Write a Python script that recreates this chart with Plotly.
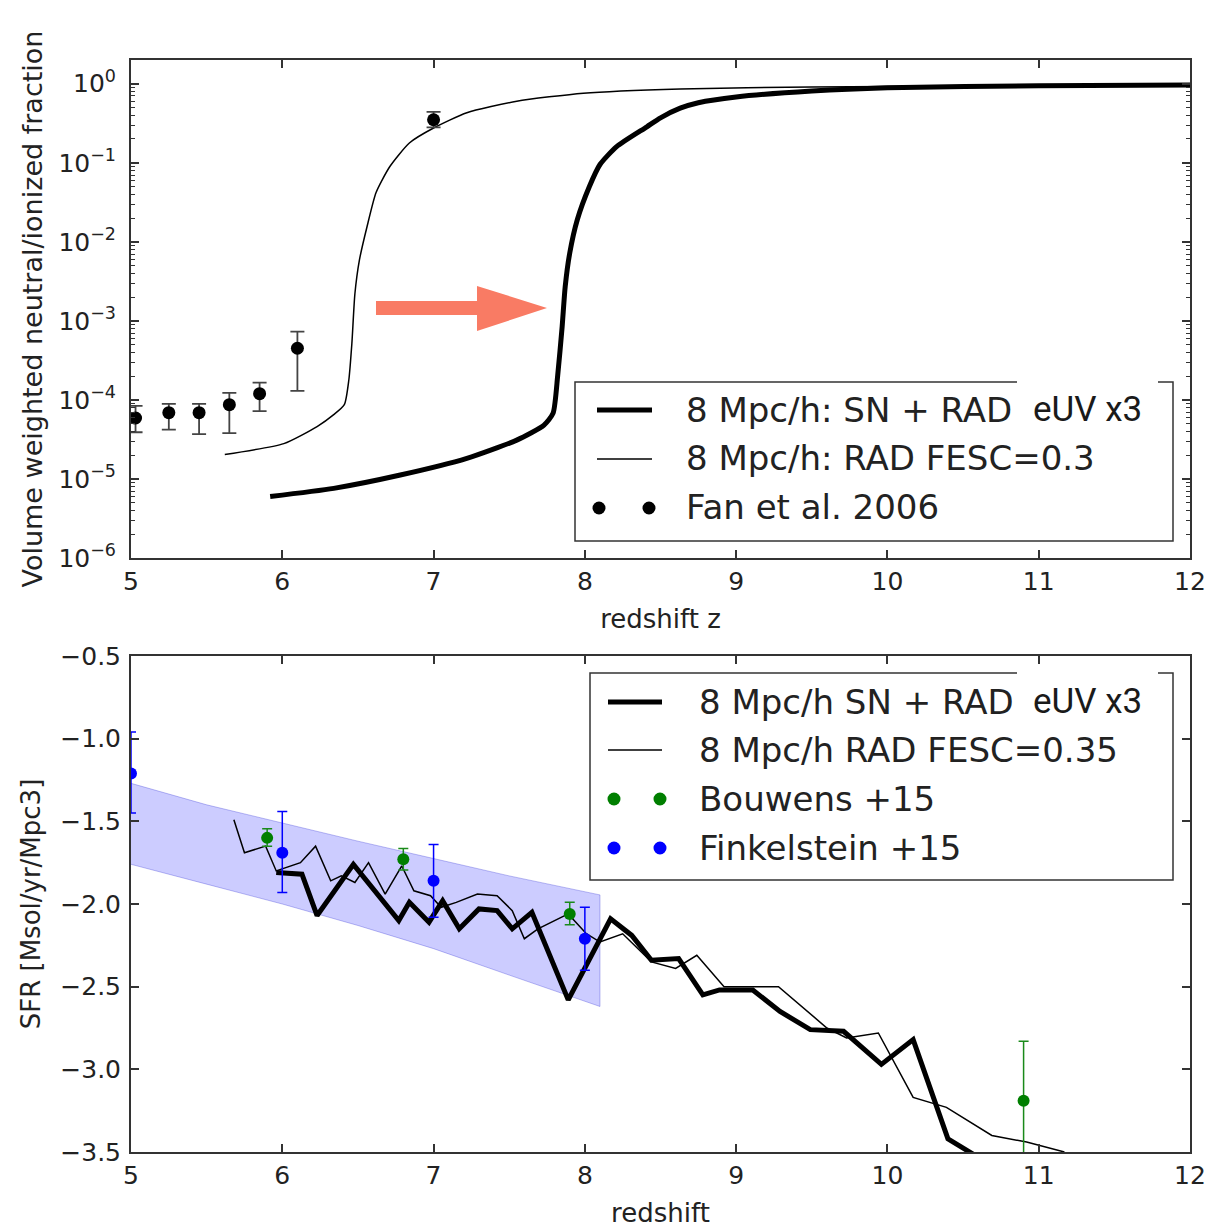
import plotly.graph_objects as go

# ---------------- top panel data (volume weighted neutral/ionized fraction) -------------
z_sn_top = [5.92, 6.34, 6.78, 7.22, 7.55, 7.73, 7.79, 7.82, 7.85, 7.87, 7.90, 7.95,
            8.03, 8.10, 8.21, 8.41, 8.50, 8.63, 8.75, 9.0, 9.5, 10.0, 11.0, 12.0]
frac_sn_top = [6.0e-6, 7.6e-6, 1.12e-5, 1.82e-5, 3.1e-5, 4.8e-5, 6.8e-5, 2.0e-4, 8.5e-4,
               2.7e-3, 7.2e-3, 1.9e-2, 5.0e-2, 9.5e-2, 0.16, 0.285, 0.37, 0.49, 0.575,
               0.68, 0.81, 0.89, 0.94, 0.965]

z_rad_top = [5.62, 6.01, 6.23, 6.34, 6.41, 6.44, 6.46, 6.48, 6.51, 6.56, 6.62, 6.71,
             6.84, 7.00, 7.22, 7.55, 7.99, 8.63, 9.5, 10.5, 12.0]
frac_rad_top = [2.04e-5, 2.8e-5, 4.6e-5, 6.5e-5, 8.7e-5, 1.8e-4, 5.2e-4, 2.2e-3, 5.9e-3,
                1.55e-2, 4.2e-2, 8.9e-2, 0.178, 0.275, 0.43, 0.60, 0.76, 0.86, 0.91,
                0.93, 0.955]

fan_z = [5.03, 5.25, 5.45, 5.65, 5.85, 6.10, 7.00]
fan_val = [5.9e-5, 6.9e-5, 6.9e-5, 8.7e-5, 1.2e-4, 4.5e-4, 0.35]
fan_hi = [8.4e-5, 8.9e-5, 8.9e-5, 1.23e-4, 1.65e-4, 7.3e-4, 0.44]
fan_lo = [3.9e-5, 4.2e-5, 3.7e-5, 3.8e-5, 7.2e-5, 1.3e-4, 0.28]

# ---------------- bottom panel data (SFR) -------------
z_sn_sfr = [5.96, 6.13, 6.23, 6.47, 6.77, 6.84, 6.97, 7.06, 7.17, 7.30, 7.42, 7.52, 7.65,
            7.89, 8.17, 8.31, 8.44, 8.62, 8.78, 8.89, 9.11, 9.29, 9.49, 9.71, 9.96,
            10.17, 10.40, 10.55, 10.65]
sfr_sn = [-1.81, -1.82, -2.07, -1.76, -2.10, -1.99, -2.11, -1.98, -2.15, -2.03, -2.04,
          -2.15, -2.05, -2.58, -2.09, -2.19, -2.34, -2.33, -2.55, -2.52, -2.52, -2.65,
          -2.76, -2.77, -2.97, -2.82, -3.42, -3.51, -3.56]

z_rad_sfr = [5.68, 5.75, 5.89, 5.96, 6.12, 6.22, 6.32, 6.39, 6.48, 6.57, 6.68, 6.79, 6.87,
             6.98, 7.05, 7.15, 7.29, 7.42, 7.52, 7.60, 7.69, 7.89, 8.01, 8.10, 8.25,
             8.44, 8.60, 8.74, 8.92, 9.28, 9.60, 9.73, 9.94, 10.17, 10.39, 10.69,
             10.92, 11.17]
sfr_rad = [-1.49, -1.69, -1.65, -1.80, -1.75, -1.65, -1.86, -1.83, -1.87, -1.75, -1.94,
           -1.77, -1.92, -1.95, -2.02, -1.99, -1.94, -1.95, -2.04, -2.21, -2.15, -2.06,
           -2.18, -2.23, -2.18, -2.35, -2.39, -2.31, -2.50, -2.50, -2.75, -2.81, -2.78,
           -3.17, -3.23, -3.40, -3.44, -3.50]

band_z = [5.0, 5.5, 6.0, 6.5, 7.0, 7.5, 8.1]
band_hi = [-1.27, -1.40, -1.51, -1.62, -1.725, -1.83, -1.945]
band_lo = [-1.76, -1.88, -2.00, -2.13, -2.27, -2.43, -2.62]

bouwens_z = [5.9, 6.8, 7.9, 10.9]
bouwens_sfr = [-1.60, -1.73, -2.06, -3.19]
bouwens_up = [0.055, 0.065, 0.07, 0.36]
bouwens_dn = [0.05, 0.065, 0.065, 0.36]

fink_z = [5.0, 6.0, 7.0, 8.0]
fink_sfr = [-1.21, -1.69, -1.86, -2.21]
fink_up = [0.25, 0.25, 0.22, 0.19]
fink_dn = [0.24, 0.24, 0.22, 0.19]

legend_top = ["8 Mpc/h: SN + RAD", "8 Mpc/h: RAD FESC=0.3", "Fan et al. 2006"]
legend_bot = ["8 Mpc/h SN + RAD", "8 Mpc/h RAD FESC=0.35", "Bouwens +15", "Finkelstein +15"]

# ---------------- figure -------------
FONT = "DejaVu Sans"
TXT = "#222222"
AX = "#333333"
L, R, T, B = 131, 19, 60, 76
W, H = 1209, 1228
PW, PH = W - L - R, H - T - B


def px(x):
    return (x - L) / PW


def py(y):
    return (H - B - y) / PH


fig = go.Figure()

# top panel traces
fig.add_trace(go.Scatter(x=z_sn_top, y=frac_sn_top, mode="lines",
                         line=dict(color="black", width=5, shape="spline", smoothing=0.6),
                         xaxis="x", yaxis="y"))
fig.add_trace(go.Scatter(x=z_rad_top, y=frac_rad_top, mode="lines",
                         line=dict(color="black", width=1.5, shape="spline", smoothing=0.6),
                         xaxis="x", yaxis="y"))
fig.add_trace(go.Scatter(
    x=fan_z, y=fan_val, mode="markers",
    marker=dict(color="black", size=13),
    error_y=dict(type="data", symmetric=False,
                 array=[h - v for h, v in zip(fan_hi, fan_val)],
                 arrayminus=[v - l for v, l in zip(fan_val, fan_lo)],
                 color="#444444", thickness=1.8, width=7),
    xaxis="x", yaxis="y"))

# bottom panel traces
fig.add_trace(go.Scatter(
    x=band_z + band_z[::-1], y=band_hi + band_lo[::-1], mode="lines", fill="toself",
    fillcolor="rgba(0,0,255,0.2)", line=dict(color="rgba(0,0,200,0.25)", width=1),
    xaxis="x2", yaxis="y2"))
fig.add_trace(go.Scatter(x=z_sn_sfr, y=sfr_sn, mode="lines",
                         line=dict(color="black", width=5), xaxis="x2", yaxis="y2"))
fig.add_trace(go.Scatter(x=z_rad_sfr, y=sfr_rad, mode="lines",
                         line=dict(color="black", width=1.5), xaxis="x2", yaxis="y2"))
fig.add_trace(go.Scatter(
    x=bouwens_z, y=bouwens_sfr, mode="markers", marker=dict(color="#007f00", size=12),
    error_y=dict(type="data", symmetric=False, array=bouwens_up, arrayminus=bouwens_dn,
                 color="#1a8a1a", thickness=1.5, width=5),
    xaxis="x2", yaxis="y2"))
fig.add_trace(go.Scatter(
    x=fink_z, y=fink_sfr, mode="markers", marker=dict(color="#0000ff", size=12),
    error_y=dict(type="data", symmetric=False, array=fink_up, arrayminus=fink_dn,
                 color="#0000ff", thickness=1.5, width=5),
    xaxis="x2", yaxis="y2"))

top_dom = [py(558), 1.0]
bot_dom = [0.0, py(656)]

common_x = dict(range=[5, 12], tickmode="linear", tick0=5, dtick=1, ticks="inside",
                ticklen=8, tickwidth=1.5, tickcolor=AX, showline=True, linecolor=AX,
                linewidth=2, mirror="ticks", showgrid=False, zeroline=False,
                automargin=False,
                tickfont=dict(family=FONT, size=25, color=TXT), ticklabelstandoff=0)

major_exp = [-6, -5, -4, -3, -2, -1, 0]
minor_vals = [m * 10.0 ** e for e in range(-6, 1) for m in range(2, 10)]

fig.update_layout(
    width=W, height=H, margin=dict(l=L, r=R, t=T, b=B, autoexpand=False),
    paper_bgcolor="white", plot_bgcolor="white", showlegend=False,
    font=dict(family=FONT, color=TXT),
    xaxis=dict(common_x, domain=[0, 1], anchor="y",
               title=dict(text="redshift z", font=dict(family=FONT, size=26, color=TXT),
                          standoff=15)),
    yaxis=dict(domain=top_dom, anchor="x", type="log", range=[-6, 0.3],
               tickmode="array", tickvals=[10.0 ** e for e in major_exp],
               ticktext=["10<sup>%s</sup>" % (str(e).replace("-", "\u2212")) for e in major_exp],
               ticks="inside", ticklen=8, tickwidth=1.5, tickcolor=AX,
               minor=dict(tickmode="array", tickvals=minor_vals, ticks="inside",
                          ticklen=4, tickwidth=1, tickcolor=AX, showgrid=False),
               showline=True, linecolor=AX, linewidth=2, mirror="ticks",
               showgrid=False, zeroline=False, ticklabelstandoff=8, automargin=False,
               tickfont=dict(family=FONT, size=25, color=TXT),
               title=dict(text="Volume weighted neutral/ionized fraction",
                          font=dict(family=FONT, size=27, color=TXT), standoff=8)),
    xaxis2=dict(common_x, domain=[0, 1], anchor="y2",
                title=dict(text="redshift", font=dict(family=FONT, size=26, color=TXT),
                           standoff=16)),
    yaxis2=dict(domain=bot_dom, anchor="x2", range=[-3.5, -0.5], tickmode="linear",
                tick0=-3.5, dtick=0.5, tickformat=".1f", ticks="inside", ticklen=8,
                tickwidth=1.5, tickcolor=AX, showline=True, linecolor=AX, linewidth=2,
                mirror="ticks", showgrid=False, zeroline=False, ticklabelstandoff=3,
                automargin=False,
                tickfont=dict(family=FONT, size=25, color=TXT),
                title=dict(text="SFR [Msol/yr/Mpc3]",
                           font=dict(family=FONT, size=26, color=TXT), standoff=12)),
)

shapes = []
annotations = []

# salmon arrow (top panel)
arrow_px = [(376, 301), (477, 301), (477, 286), (547, 308), (477, 331), (477, 315), (376, 315)]
path = "M " + " L ".join("%.5f,%.5f" % (px(a), py(b)) for a, b in arrow_px) + " Z"
shapes.append(dict(type="path", xref="paper", yref="paper", path=path,
                   fillcolor="#F97B64", line=dict(width=0), layer="above"))


def legend_box(x0, y0, x1, y1):
    shapes.append(dict(type="rect", xref="paper", yref="paper", x0=px(x0), x1=px(x1),
                       y0=py(y1), y1=py(y0), fillcolor="white",
                       line=dict(color=AX, width=1.5), layer="above"))


def leg_line(x0, x1, y, w):
    shapes.append(dict(type="line", xref="paper", yref="paper", x0=px(x0), x1=px(x1),
                       y0=py(y), y1=py(y), line=dict(color="black", width=w), layer="above"))


def leg_dot(x, y, color, r=6.5):
    shapes.append(dict(type="circle", xref="paper", yref="paper", x0=px(x - r), x1=px(x + r),
                       y0=py(y + r), y1=py(y - r), fillcolor=color,
                       line=dict(color=color, width=0), layer="above"))


def leg_text(x, y, text, size=34):
    annotations.append(dict(xref="paper", yref="paper", x=px(x), y=py(y), text=text,
                            showarrow=False, xanchor="left", yanchor="middle",
                            font=dict(family=FONT, size=size, color=TXT)))


def euv_box(x0, y0, x1, y1, yc):
    shapes.append(dict(type="rect", xref="paper", yref="paper", x0=px(x0), x1=px(x1),
                       y0=py(y1), y1=py(y0), fillcolor="white", line=dict(width=0),
                       layer="above"))
    annotations.append(dict(xref="paper", yref="paper", x=px((x0 + x1) / 2), y=py(yc),
                            text="eUV x3", showarrow=False, xanchor="center",
                            yanchor="middle",
                            font=dict(family="Liberation Sans Narrow, Roboto, sans-serif",
                                      size=35, color="#1a1a1a")))


# top legend
legend_box(575, 382, 1173, 541)
leg_line(597, 652, 410, 5)
leg_line(597, 652, 459, 1.5)
leg_dot(599, 508, "black")
leg_dot(649, 508, "black")
for t, yy in zip(legend_top, [410, 458, 507]):
    leg_text(684, yy, t)
euv_box(1017, 376, 1158, 434, 410)

# bottom legend
legend_box(590, 673, 1173, 880)
leg_line(608, 662, 702, 5)
leg_line(608, 662, 750, 1.5)
leg_dot(614, 799, "#007f00")
leg_dot(660, 799, "#007f00")
leg_dot(614, 848, "#0000ff")
leg_dot(660, 848, "#0000ff")
for t, yy in zip(legend_bot, [702, 750, 799, 848]):
    leg_text(697, yy, t)
euv_box(1017, 668, 1158, 727, 701)

fig.update_layout(shapes=shapes, annotations=annotations)
fig.write_html("out.html")
